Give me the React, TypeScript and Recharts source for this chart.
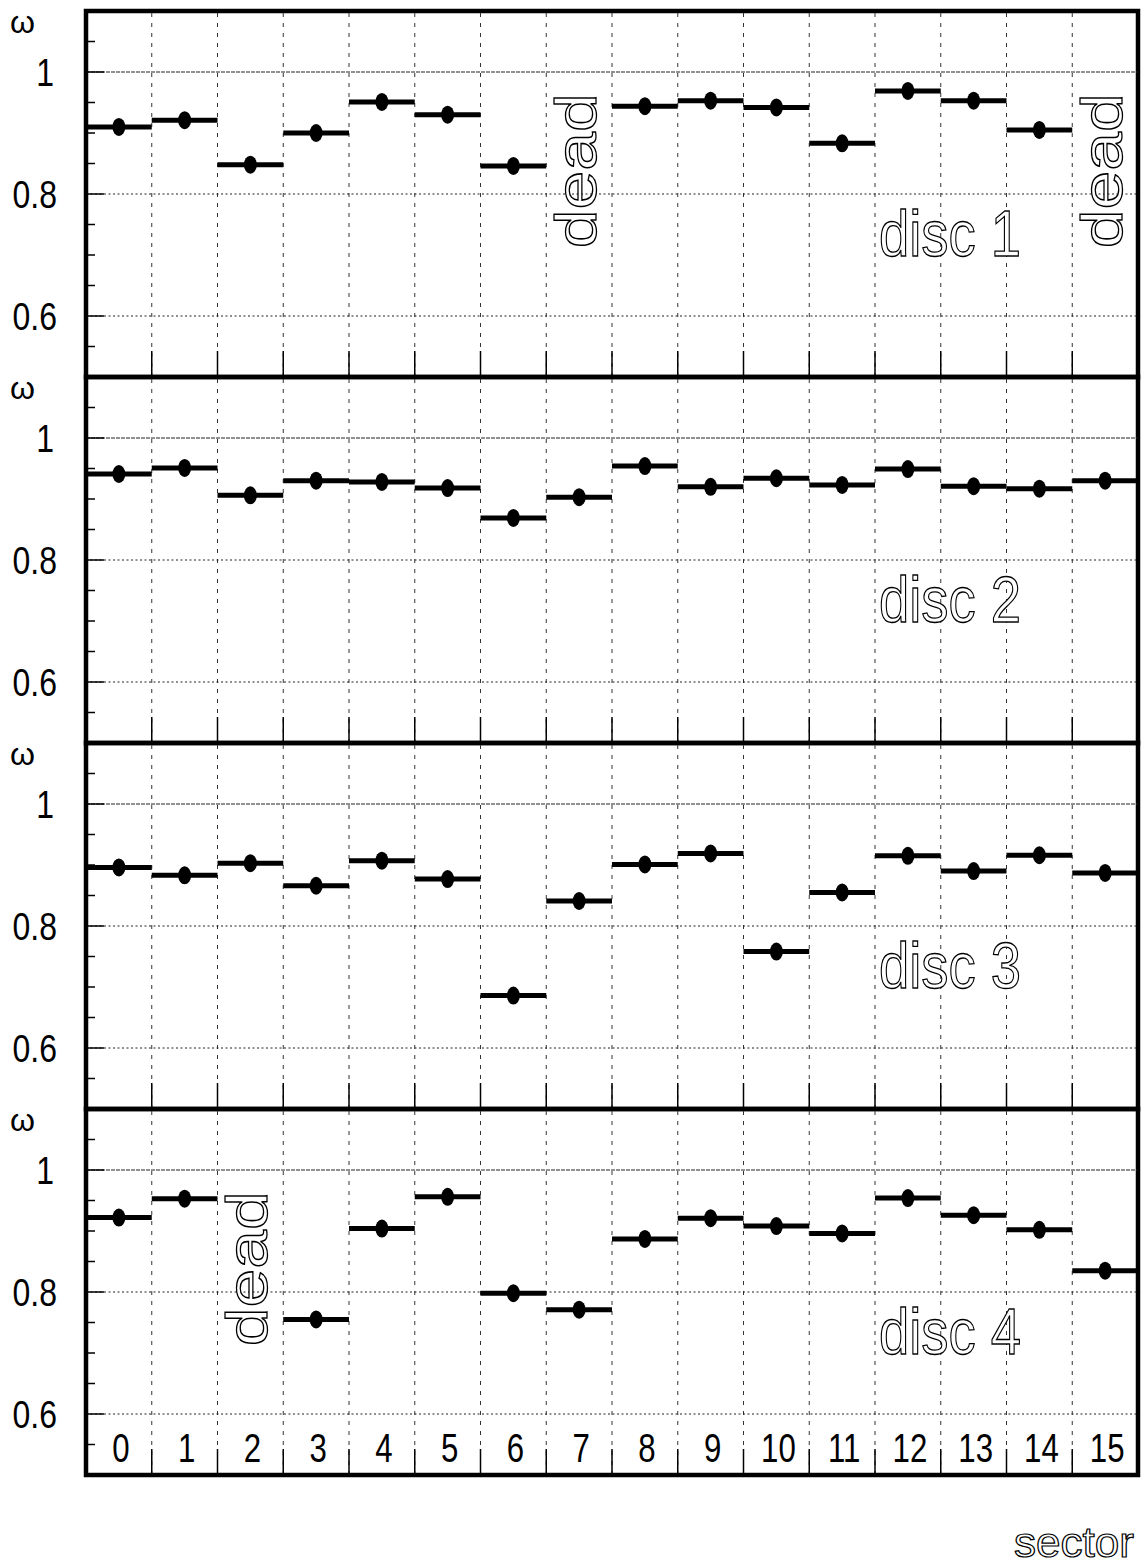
import React from "react";
import {
  ScatterChart,
  Scatter,
  XAxis,
  YAxis,
  ErrorBar,
  ReferenceLine,
  ReferenceArea,
  ReferenceDot,
} from "recharts";

// sectors and per-disc efficiency (null = dead sector)
const sectors = [0, 1, 2, 3, 4, 5, 6, 7, 8, 9, 10, 11, 12, 13, 14, 15];
const binEdges = [0.5, 1.5, 2.5, 3.5, 4.5, 5.5, 6.5, 7.5, 8.5, 9.5, 10.5, 11.5, 12.5, 13.5, 14.5];
const disc1 = [0.91, 0.921, 0.848, 0.9, 0.951, 0.93, 0.846, null, 0.944, 0.953, 0.942, 0.883, 0.969, 0.953, 0.905, null];
const disc2 = [0.941, 0.951, 0.906, 0.93, 0.928, 0.918, 0.869, 0.903, 0.954, 0.92, 0.934, 0.923, 0.949, 0.921, 0.917, 0.93];
const disc3 = [0.896, 0.883, 0.903, 0.866, 0.907, 0.877, 0.686, 0.841, 0.901, 0.919, 0.758, 0.855, 0.915, 0.89, 0.916, 0.887];
const disc4 = [0.922, 0.953, null, 0.755, 0.904, 0.956, 0.798, 0.771, 0.887, 0.921, 0.908, 0.896, 0.954, 0.926, 0.902, 0.835];
const discNames = ["disc 1", "disc 2", "disc 3", "disc 4"];
const deadSectors = [[7, 15], [], [], [2]];

const yTicks = [0.55, 0.6, 0.65, 0.7, 0.75, 0.8, 0.85, 0.9, 0.95, 1, 1.05];
const yLabelTicks = [0.6, 0.8, 1];
const binHalfWidth = 0.5;

// annotation anchors (data coords)
const discLabelX = 11.56;
const discLabelY = 0.698;
const deadLabelY = 0.838;

const W = 1141;
const PANEL_H = 366;
const TOP = 11;
const LEFT = 86;
const RIGHT = 3;
const FONT = "'Liberation Sans', Arial, sans-serif";

// ROOT-style condensed text
function NarrowText({ x, y, size, anchor = "start", sx = 0.8, children }: any) {
  return (
    <g transform={`translate(${x},${y}) scale(${sx},1)`}>
      <text x={0} y={0} textAnchor={anchor} fontSize={size} fontFamily={FONT} fill="#000">
        {children}
      </text>
    </g>
  );
}

function YTick(props: any) {
  const { x, y, payload } = props;
  const major = yLabelTicks.includes(payload.value);
  return (
    <g>
      <line x1={x} x2={x + (major ? 18 : 9)} y1={y} y2={y} stroke="#000" strokeWidth={1.5} />
      {major && (
        <NarrowText x={payload.value === 1 ? x - 32 : x - 29} y={y + 14} size={39} anchor="end" sx={0.82}>
          {String(payload.value)}
        </NarrowText>
      )}
    </g>
  );
}

function EdgeTick(props: any) {
  const { x, y } = props;
  return <line x1={x} x2={x} y1={y} y2={y - 26} stroke="#000" strokeWidth={1.5} />;
}

function SectorTick(props: any) {
  const { x, y, payload } = props;
  return (
    <NarrowText x={x + 2} y={y - 14} size={40} anchor="middle" sx={0.78}>
      {payload.value}
    </NarrowText>
  );
}

function Panel({ values, name, dead, index, last }: any) {
  const data = sectors
    .map((s, i) => ({ sector: s, eff: values[i], ex: binHalfWidth }))
    .filter((d) => d.eff !== null);
  const bottom = last ? 90 : 9;

  return (
    <div style={{ position: "absolute", left: 0, top: index * PANEL_H }}>
      <ScatterChart
        width={W}
        height={TOP + PANEL_H + bottom + 2}
        margin={{ top: TOP, right: RIGHT, bottom, left: 0 }}
      >
        <XAxis
          xAxisId="b"
          type="number"
          dataKey="sector"
          domain={[-0.5, 15.5]}
          ticks={binEdges}
          interval={0}
          height={1}
          axisLine={false}
          tickLine={false}
          tickSize={0}
          tickMargin={0}
          tick={<EdgeTick />}
          allowDataOverflow
        />
        <XAxis
          xAxisId="c"
          type="number"
          dataKey="sector"
          domain={[-0.5, 15.5]}
          ticks={sectors}
          interval={0}
          height={1}
          axisLine={false}
          tickLine={false}
          tickSize={0}
          tickMargin={0}
          tick={last ? <SectorTick /> : false}
          allowDataOverflow
          label={
            last
              ? {
                  content: (p: any) => (
                    <text
                      x={p.viewBox.x + p.viewBox.width - 4}
                      y={p.viewBox.y + 81}
                      textAnchor="end"
                      fontSize={42}
                      fontFamily={FONT}
                      fill="#fff"
                      stroke="#000"
                      strokeWidth={1.2}
                      textLength={120}
                      lengthAdjust="spacingAndGlyphs"
                    >
                      sector
                    </text>
                  ),
                }
              : undefined
          }
        />
        <YAxis
          type="number"
          dataKey="eff"
          domain={[0.5, 1.1]}
          ticks={yTicks}
          interval={0}
          width={LEFT}
          axisLine={false}
          tickLine={false}
          tickSize={0}
          tickMargin={0}
          tick={<YTick />}
          allowDataOverflow
          label={{
            content: (p: any) => (
              <text x={10} y={p.viewBox.y + 22} fontSize={32} fontFamily={FONT} fill="#000">
                ω
              </text>
            ),
          }}
        />

        {binEdges.map((e) => (
          <ReferenceLine key={e} xAxisId="b" x={e} stroke="#333" strokeWidth={1} strokeDasharray="4 6" />
        ))}
        <ReferenceLine xAxisId="b" y={0.6} stroke="#222" strokeWidth={1} strokeDasharray="2 2.5" />
        <ReferenceLine xAxisId="b" y={0.8} stroke="#222" strokeWidth={1} strokeDasharray="2 2.5" />
        <ReferenceLine xAxisId="b" y={1} stroke="#222" strokeWidth={1} strokeDasharray="4 1" />

        <Scatter
          xAxisId="b"
          data={data}
          dataKey="eff"
          isAnimationActive={false}
          shape={(p: any) => <ellipse cx={p.cx} cy={p.cy} rx={6.5} ry={9} fill="#000" />}
        >
          <ErrorBar dataKey="ex" direction="x" width={0} stroke="#000" strokeWidth={5} isAnimationActive={false} />
        </Scatter>

        <ReferenceDot
          xAxisId="b"
          x={discLabelX}
          y={discLabelY}
          shape={(p: any) => (
            <text
              x={p.cx}
              y={p.cy}
              fontSize={64}
              fontFamily={FONT}
              fill="#fff"
              stroke="#000"
              strokeWidth={1.3}
              textLength={142}
              lengthAdjust="spacingAndGlyphs"
            >
              {name}
            </text>
          )}
        />
        {dead.map((s: number) => (
          <ReferenceDot
            key={s}
            xAxisId="b"
            x={s}
            y={deadLabelY}
            shape={(p: any) => (
              <text
                transform={`translate(${p.cx + 17},${p.cy}) rotate(-90)`}
                textAnchor="middle"
                fontSize={57}
                fontFamily={FONT}
                fill="#fff"
                stroke="#000"
                strokeWidth={1.3}
                textLength={155}
                lengthAdjust="spacingAndGlyphs"
              >
                dead
              </text>
            )}
          />
        ))}

        <ReferenceArea
          xAxisId="b"
          x1={-0.5}
          x2={15.5}
          y1={0.5}
          y2={1.1}
          fill="none"
          stroke="#000"
          strokeWidth={4.5}
          ifOverflow="visible"
        />
      </ScatterChart>
    </div>
  );
}

export default function App() {
  const discs = [disc1, disc2, disc3, disc4];
  return (
    <div style={{ position: "absolute", left: 0, top: 0, width: W, height: 1567, background: "#fff" }}>
      {discs.map((vals, i) => (
        <Panel
          key={discNames[i]}
          values={vals}
          name={discNames[i]}
          dead={deadSectors[i]}
          index={i}
          last={i === discs.length - 1}
        />
      ))}
    </div>
  );
}
